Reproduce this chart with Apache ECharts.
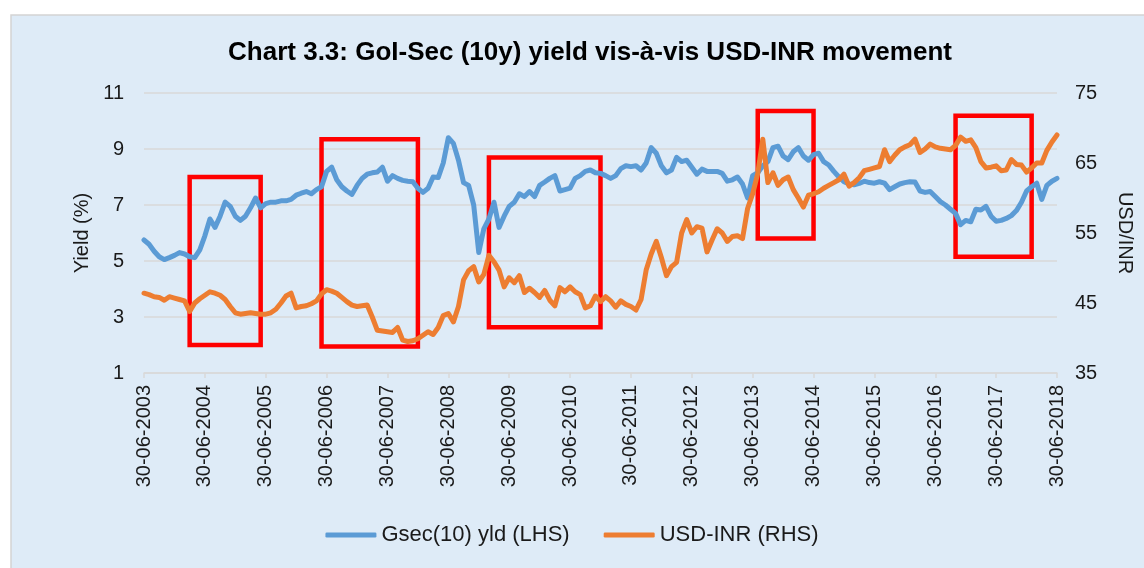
<!DOCTYPE html>
<html>
<head>
<meta charset="utf-8">
<script src="https://cdn.jsdelivr.net/npm/echarts@6/dist/echarts.min.js"></script>
<style>
  html, body { margin: 0; padding: 0; background: #ffffff; }
  #chart { width: 1144px; height: 568px; }
</style>
</head>
<body>
<div id="chart"></div>
<script>
// monthly readings, Jun-2003 .. Jun-2018
var gsec = [
  5.75, 5.6, 5.35, 5.15, 5.05, 5.12, 5.2, 5.3, 5.25, 5.15, 5.12, 5.4,
  5.9, 6.5, 6.2, 6.6, 7.1, 6.95, 6.6, 6.45, 6.6, 6.9, 7.25, 6.9,
  7.05, 7.1, 7.1, 7.15, 7.15, 7.2, 7.35, 7.42, 7.48, 7.4, 7.55, 7.65,
  8.2, 8.35, 7.9, 7.65, 7.5, 7.38, 7.7, 7.95, 8.1, 8.15, 8.18, 8.35,
  7.85, 8.05, 7.95, 7.88, 7.85, 7.83, 7.6, 7.45, 7.6, 8.0, 7.98, 8.5,
  9.4, 9.2, 8.6, 7.8, 7.7, 7.0, 5.3, 6.15, 6.5, 7.1, 6.2, 6.6,
  6.95, 7.1, 7.4, 7.3, 7.48, 7.3, 7.7, 7.82, 7.95, 8.05, 7.5, 7.55,
  7.6, 7.95, 8.05, 8.2, 8.25, 8.15, 8.13, 8.05, 7.95, 8.05, 8.3, 8.4,
  8.37, 8.4, 8.25, 8.5, 9.05, 8.85, 8.4, 8.15, 8.25, 8.7, 8.55, 8.6,
  8.35, 8.1, 8.28, 8.2, 8.2, 8.2, 8.13, 7.85, 7.9, 8.0, 7.75, 7.25,
  8.05, 8.15, 8.4, 8.55, 9.05, 9.1, 8.75, 8.62, 8.9, 9.05, 8.75, 8.6,
  8.8, 8.85, 8.55, 8.43, 8.2, 8.0, 7.83, 7.75, 7.72, 7.77, 7.85, 7.8,
  7.78, 7.83, 7.78, 7.55, 7.65, 7.75, 7.8, 7.83, 7.82, 7.5, 7.45, 7.48,
  7.3, 7.12, 7.0, 6.85, 6.7, 6.3, 6.45, 6.4, 6.85, 6.82, 6.95, 6.6,
  6.42, 6.45, 6.52, 6.62, 6.8, 7.1, 7.5, 7.65, 7.78, 7.2, 7.7, 7.85,
  7.95
];
var usdinr = [
  46.4, 46.2, 45.9, 45.8, 45.4, 45.9, 45.7, 45.5, 45.3, 43.8, 45.0, 45.6,
  46.1, 46.6, 46.4, 46.1, 45.5, 44.5, 43.6, 43.4, 43.5, 43.6, 43.5, 43.4,
  43.4, 43.6, 44.1, 45.0, 46.0, 46.4, 44.3, 44.5, 44.6, 44.9, 45.3, 46.3,
  46.9, 46.7, 46.4, 45.8, 45.2, 44.7, 44.5, 44.6, 44.7, 43.0, 41.1, 41.0,
  40.9, 40.8, 41.5, 39.7, 39.5, 39.6, 39.9, 40.4, 40.9, 40.5, 41.5, 43.2,
  43.5, 42.3, 44.5, 48.3, 49.6, 50.2, 48.0, 49.1, 51.8, 50.9, 49.7, 47.3,
  48.6, 47.9, 48.9, 46.5, 47.1, 46.5, 45.8, 46.8, 45.4, 44.6, 47.2, 46.6,
  47.3, 46.6, 46.2, 44.3, 44.6, 46.0, 45.2, 45.9, 45.3, 44.4, 45.3, 44.8,
  44.5, 44.0, 45.5, 49.7, 52.0, 53.8, 51.5, 48.9, 50.2, 50.8, 55.0, 56.9,
  55.0, 55.9, 55.7, 52.3, 54.0, 55.6, 55.0, 53.8, 54.5, 54.6, 54.2, 58.5,
  60.6, 63.5, 68.4, 62.2, 63.6, 61.8, 62.6, 63.0, 61.2, 60.0, 58.7, 60.4,
  60.6, 60.9, 61.4, 61.8, 62.2, 62.6, 63.4, 61.7, 62.2, 62.9, 63.9, 64.1,
  64.3, 64.5, 66.9, 65.2, 66.1, 66.9, 67.3, 67.6, 68.4, 66.5, 67.0, 67.7,
  67.3, 67.1, 67.0, 66.9, 67.5, 68.7, 68.1, 68.3, 67.2, 65.2, 64.3, 64.4,
  64.6, 63.9, 64.0, 65.5, 64.8, 64.7, 63.7, 64.3, 65.0, 65.0, 66.8, 68.0,
  69.0
];
// highlighted periods: [first month index, last month index, yield low, yield high]
var boxes = [
  [9, 23, 2.0, 8.0],
  [35, 54, 1.95, 9.35],
  [68, 90, 2.63, 8.7],
  [121, 132, 5.8, 10.36],
  [160, 175, 5.15, 10.19]
];

// month-end dates as category labels
var startYear = 2003, startMonth = 6;
var months = [];
function pad(n) { return n < 10 ? '0' + n : '' + n; }
for (var i = 0; i < gsec.length; i++) {
  var mm = (startMonth - 1 + i) % 12;
  var yy = startYear + Math.floor((startMonth - 1 + i) / 12);
  var dd = new Date(yy, mm + 1, 0).getDate();
  months.push(pad(dd) + '-' + pad(mm + 1) + '-' + yy);
}

var font = 'Liberation Sans, Arial, sans-serif';
var chart = echarts.init(document.getElementById('chart'), null, { renderer: 'canvas' });

var option = {
  backgroundColor: '#ffffff',
  animation: false,
  graphic: [{
    type: 'rect',
    z: -10,
    shape: { x: 11, y: 15, width: 1200, height: 600 },
    style: { fill: '#DEEBF7', stroke: '#D4D4D4', lineWidth: 1.5 }
  }],
  title: {
    text: 'Chart 3.3: GoI-Sec (10y) yield vis-à-vis USD-INR movement',
    left: 585,
    textAlign: 'center',
    top: 35,
    textStyle: { fontFamily: font, fontSize: 26, fontWeight: 'bold', color: '#000' }
  },
  legend: {
    bottom: 17,
    left: 'center',
    itemWidth: 51,
    itemHeight: 5,
    itemGap: 34,
    icon: 'roundRect',
    textStyle: { fontFamily: font, fontSize: 22, color: '#1a1a1a' },
    data: ['Gsec(10) yld (LHS)', 'USD-INR (RHS)']
  },
  grid: { left: 144, right: 87, top: 93, bottom: 195 },
  xAxis: {
    type: 'category',
    boundaryGap: false,
    data: months,
    axisLine: { lineStyle: { color: '#D9D9D9', width: 1.5 } },
    axisTick: { interval: 11, length: 5, lineStyle: { color: '#D9D9D9', width: 1.5 } },
    axisLabel: {
      interval: 11,
      rotate: 90,
      margin: 12,
      fontFamily: font,
      fontSize: 20,
      color: '#1a1a1a'
    },
    splitLine: { show: false }
  },
  yAxis: [{
    type: 'value',
    min: 1,
    max: 11,
    interval: 2,
    name: 'Yield (%)',
    nameLocation: 'middle',
    nameGap: 46,
    nameTextStyle: { fontFamily: font, fontSize: 20, color: '#1a1a1a' },
    axisLine: { show: false },
    axisTick: { show: false },
    axisLabel: { fontFamily: font, fontSize: 20, color: '#1a1a1a', margin: 20 },
    splitLine: { lineStyle: { color: '#D9D9D9', width: 1.5 } }
  }, {
    type: 'value',
    min: 35,
    max: 75,
    interval: 10,
    name: 'USD/INR',
    nameLocation: 'middle',
    nameRotate: -90,
    nameGap: 58,
    nameTextStyle: { fontFamily: font, fontSize: 20, color: '#1a1a1a' },
    axisLine: { show: false },
    axisTick: { show: false },
    axisLabel: { fontFamily: font, fontSize: 20, color: '#1a1a1a', margin: 18 },
    splitLine: { show: false }
  }],
  series: [{
    name: 'Gsec(10) yld (LHS)',
    type: 'line',
    yAxisIndex: 0,
    data: gsec,
    showSymbol: false,
    color: '#5B9BD5',
    lineStyle: { width: 5, color: '#5B9BD5', cap: 'round', join: 'round' },
    markArea: {
      silent: true,
      label: { show: false },
      itemStyle: { color: 'rgba(0,0,0,0)', borderColor: '#FF0000', borderWidth: 4.5 },
      data: boxes.map(function (b) {
        return [{ xAxis: months[b[0]], yAxis: b[2] }, { xAxis: months[b[1]], yAxis: b[3] }];
      })
    }
  }, {
    name: 'USD-INR (RHS)',
    type: 'line',
    yAxisIndex: 1,
    data: usdinr,
    showSymbol: false,
    color: '#ED7D31',
    lineStyle: { width: 5, color: '#ED7D31', cap: 'round', join: 'round' }
  }]
};
chart.setOption(option);
</script>
</body>
</html>
